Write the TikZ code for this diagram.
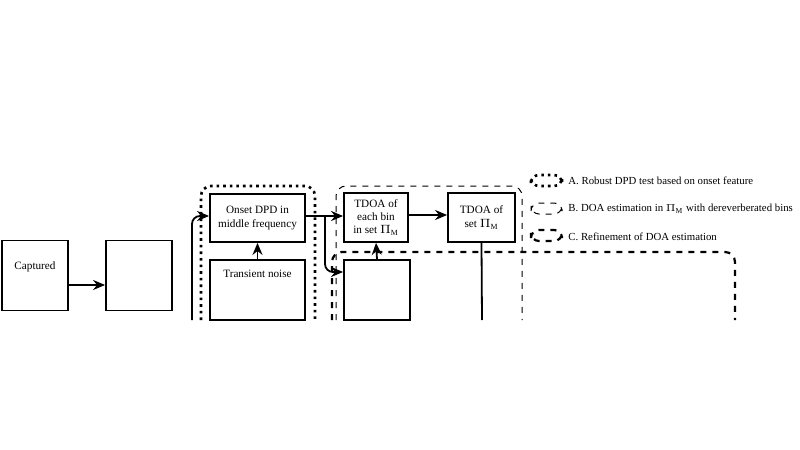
\documentclass[tikz,border=0pt]{standalone}
\usepackage{fontspec}
\setmainfont{Liberation Serif}
\usetikzlibrary{arrows.meta}
\begin{document}
\begin{tikzpicture}[x=0.5pt,y=-0.5pt,
  box/.style={draw,line width=0.9pt,align=center,font=\fontsize{5.6}{6.6}\selectfont,inner sep=0},
  arr/.style={line width=0.9pt,-{Stealth[length=6pt,width=5pt]},rounded corners=4pt},
  lbl/.style={anchor=west,font=\fontsize{5.4}{6.6}\selectfont,inner sep=0}]
\useasboundingbox (0,0) rectangle (800,450);
% boxes
\node[box,minimum width=33pt,minimum height=35pt] (cap) at (35,275.5) {\raisebox{10pt}{Captured}};
\node[box,minimum width=33pt,minimum height=35pt] (b2) at (139,275.5) {};
\node[box,minimum width=47.5pt,minimum height=24pt] (onset) at (257.5,218) {Onset DPD in\\middle frequency};
\node[box,minimum width=47.5pt,minimum height=30pt] (trans) at (257.5,290) {\raisebox{16pt}{Transient noise}};
\node[box,minimum width=32pt,minimum height=24.5pt] (t1) at (376,217.5) {TDOA of\\each bin\\in set $\Pi_{\mathrm{M}}$};
\node[box,minimum width=33.5pt,minimum height=24.5pt] (t2) at (481.5,217.5) {TDOA of\\set $\Pi_{\mathrm{M}}$};
\node[box,minimum width=33pt,minimum height=30pt] (low) at (377,290) {};
% regions
\draw[dotted,line width=1.3pt,rounded corners=5pt] (201,320) -- (201,186) -- (315,186) -- (315,320);
\draw[dashed,line width=0.5pt,rounded corners=5pt] (336,320) -- (336,186) -- (522,186) -- (522,320);
\draw[dashed,line width=1.1pt,rounded corners=5pt] (332,320) -- (332,252) -- (735,252) -- (735,320);
% connectors
\draw[arr] (cap.east |- 0,285) -- (b2.west |- 0,285);
\draw[arr] (192,320) -- (192,216) -- (onset.west |- 0,216);
\draw[arr] (trans.north) -- (onset.south);
\draw[arr] (onset.east |- 0,216) -- (t1.west |- 0,216);
\draw[arr] (325,216) -- (325,272) -- (low.west |- 0,272);
\draw[arr] (low.north) -- (t1.south);
\draw[arr] (t1.east |- 0,215) -- (t2.west |- 0,215);
\draw[line width=0.9pt] (t2.south) -- (482,320);
% legend
\draw[dotted,line width=1.3pt,rounded corners=4pt] (531,175) rectangle (562,186);
\node[lbl] (la) at (568,181) {A. Robust DPD test based on onset feature};
\draw[dashed,line width=0.5pt,rounded corners=4pt] (531,203) rectangle (562,214);
\node[lbl] (lb) at (568,209) {B. DOA estimation in $\Pi_{\mathrm{M}}$ with dereverberated bins};
\draw[dashed,line width=1.1pt,rounded corners=4pt] (531,230) rectangle (562,241);
\node[lbl] (lc) at (568,237) {C. Refinement of DOA estimation};
\end{tikzpicture}
\end{document}
